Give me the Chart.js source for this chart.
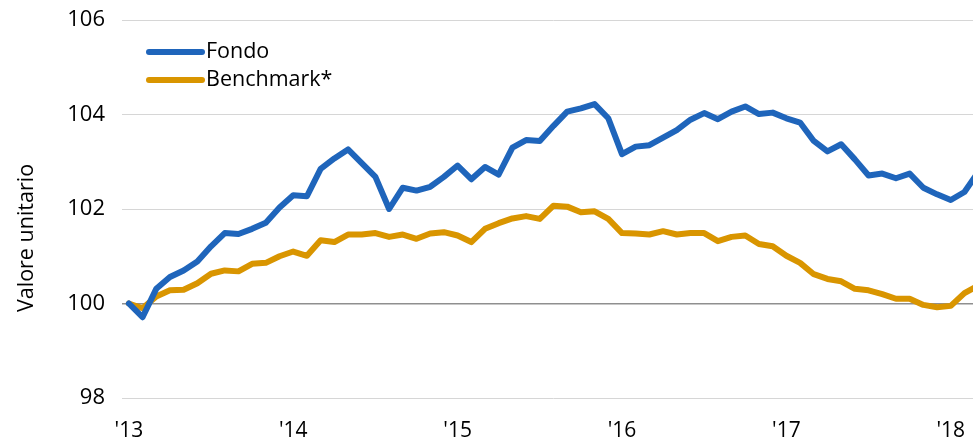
<!DOCTYPE html>
<html>
<head>
<meta charset="utf-8">
<script src="https://cdn.jsdelivr.net/npm/chart.js@4"></script>
<style>
  html, body { margin: 0; padding: 0; background: #fff; overflow: hidden; }
  #navChart { display: block; }
</style>
</head>
<body>
<canvas id="navChart" width="990" height="442"></canvas>
<script>
// anni e etichette dell'asse x
const years = [2013, 2014, 2015, 2016, 2017, 2018];
const yearTicks = ["'13", "'14", "'15", "'16", "'17", "'18"];

// valori mensili da gen 2013 a mar 2018
const fondo = [
  100.0, 99.71, 100.31, 100.56, 100.70, 100.89, 101.21, 101.49, 101.47, 101.58, 101.71, 102.03,
  102.29, 102.27, 102.85, 103.07, 103.26, 102.97, 102.68, 102.00, 102.45, 102.39, 102.47, 102.68,
  102.92, 102.63, 102.89, 102.73, 103.30, 103.46, 103.44, 103.76, 104.06, 104.13, 104.22, 103.92,
  103.16, 103.32, 103.35, 103.51, 103.67, 103.89, 104.03, 103.90, 104.06, 104.17, 104.01, 104.04,
  103.92, 103.83, 103.44, 103.22, 103.37, 103.05, 102.71, 102.75, 102.65, 102.75, 102.45, 102.31,
  102.19, 102.36, 102.78
];
const benchmark = [
  100.0, 99.90, 100.15, 100.28, 100.29, 100.43, 100.63, 100.70, 100.68, 100.84, 100.86, 101.00,
  101.10, 101.01, 101.34, 101.30, 101.46, 101.46, 101.49, 101.41, 101.46, 101.37, 101.48, 101.51,
  101.44, 101.30, 101.58, 101.70, 101.80, 101.85, 101.79, 102.07, 102.05, 101.93, 101.95, 101.79,
  101.49, 101.48, 101.46, 101.53, 101.46, 101.49, 101.49, 101.32, 101.41, 101.44, 101.26, 101.21,
  101.01, 100.86, 100.62, 100.52, 100.47, 100.31, 100.28, 100.20, 100.10, 100.10, 99.97, 99.92,
  99.95, 100.22, 100.38
];

// categorie mensili (anno-mese)
const months = [];
years.forEach(y => {
  for (let m = 1; m <= 12; m++) {
    if (months.length < fondo.length) months.push(y + '-' + m);
  }
});

const FONT = 'Open Sans';
const TXT = '#000000';

// legenda e titolo asse disegnati dentro il grafico
const overlay = {
  id: 'overlay',
  afterDraw(chart) {
    const c = chart.ctx;
    const area = chart.chartArea;
    c.save();
    c.font = '21.5px "' + FONT + '"';
    c.fillStyle = TXT;
    c.textBaseline = 'middle';
    chart.data.datasets.forEach((ds, i) => {
      const y = area.top + 32 + i * 28;
      const x0 = area.left + 27;
      c.beginPath();
      c.lineWidth = 6;
      c.lineCap = 'round';
      c.strokeStyle = ds.borderColor;
      c.moveTo(x0, y);
      c.lineTo(x0 + 53, y);
      c.stroke();
      c.fillText(ds.label, x0 + 57, y);
    });
    // titolo asse y
    c.translate(27, 238);
    c.rotate(-Math.PI / 2);
    c.textAlign = 'center';
    c.fillText('Valore unitario', 0, 0);
    c.restore();
  }
};

document.addEventListener('DOMContentLoaded', () => {
  const ctx = document.getElementById('navChart');

  new Chart(ctx, {
    type: 'line',
    data: {
      labels: months,
      datasets: [{
        label: 'Fondo',
        data: fondo,
        borderColor: '#1f65bb',
        borderWidth: 6,
        pointRadius: 0,
        borderJoinStyle: 'round',
        borderCapStyle: 'round',
        tension: 0,
        order: 1,
      }, {
        label: 'Benchmark*',
        data: benchmark,
        borderColor: '#d99500',
        borderWidth: 6,
        pointRadius: 0,
        borderJoinStyle: 'round',
        borderCapStyle: 'round',
        tension: 0,
        order: 2,
      }],
    },
    options: {
      responsive: false,
      animation: false,
      layout: { padding: { top: 20, right: 5, left: 0, bottom: 0 } },
      plugins: {
        legend: { display: false },
        tooltip: { enabled: false },
      },
      scales: {
        x: {
          offset: true,
          grid: { display: false, drawTicks: false },
          border: { display: false },
          ticks: {
            autoSkip: false,
            maxRotation: 0,
            padding: 20,
            color: TXT,
            font: { family: FONT, size: 21 },
            callback: function (v, i) {
              const lab = months[i];
              if (lab && lab.endsWith('-1')) {
                return yearTicks[years.indexOf(Number(lab.split('-')[0]))];
              }
              return '';
            },
          },
          afterFit(scale) {
            scale.height = 44;
            scale.paddingLeft = 0;
            scale.paddingRight = 0;
          },
        },
        y: {
          min: 98,
          max: 106,
          grid: {
            drawTicks: false,
            color: c => c.tick && c.tick.value === 100 ? '#8f8f8f' : '#d6d6d6',
            lineWidth: c => c.tick && c.tick.value === 100 ? 1.5 : 1,
          },
          border: { display: false },
          ticks: {
            stepSize: 2,
            padding: 17,
            color: TXT,
            font: { family: FONT, size: 22 },
          },
          afterFit(scale) {
            scale.width = 122;
            scale.paddingTop = 0;
            scale.paddingBottom = 0;
          },
        },
      },
    },
    plugins: [overlay],
  });
});
</script>
</body>
</html>
